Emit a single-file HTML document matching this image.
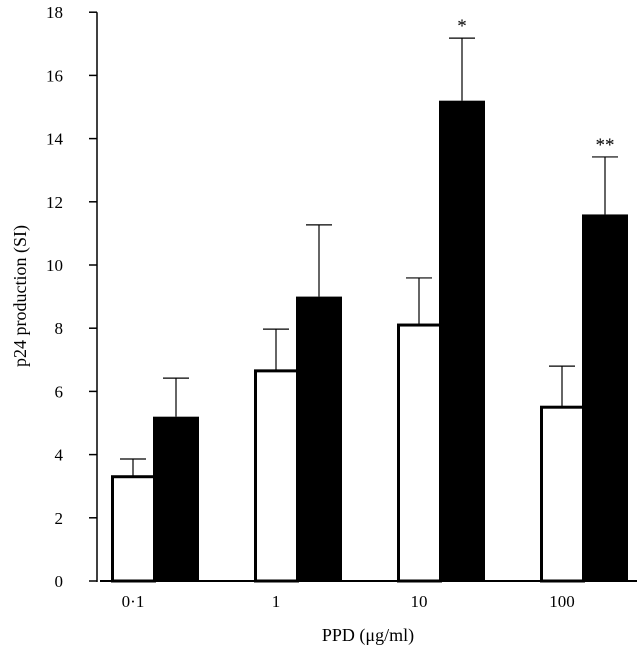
<!DOCTYPE html>
<html><head><meta charset="utf-8"><style>
body{margin:0;background:#fff}
svg{display:block}
text{font-family:"Liberation Serif","Times New Roman",serif}
</style></head><body>
<svg id="c" width="642" height="649"></svg>
<script>
const categories=["0·1","1","10","100"];
const controlValues=[3.3,6.65,8.1,5.5];
const controlErrors=[3.86,7.97,9.59,6.8];
const treatedValues=[5.2,9.0,15.2,11.6];
const treatedErrors=[6.42,11.27,17.18,13.42];
const significance=["","","*","**"];
const yTicks=[0,2,4,6,8,10,12,14,16,18];
const svg=document.getElementById('c');
const NS="http://www.w3.org/2000/svg";
const y=v=>581-v*31.6;
const gx=i=>111+i*143;
function mk(t,a,name,txt){const e=document.createElementNS(NS,t);for(const k in a)e.setAttribute(k,a[k]);


if(txt!==undefined)e.textContent=txt;svg.appendChild(e);return e;}
mk('line',{x1:97,y1:y(18),x2:97,y2:582,stroke:'#000','stroke-width':1.5},'y-axis');
mk('line',{x1:100,y1:581,x2:637,y2:581,stroke:'#000','stroke-width':2},'x-axis');
yTicks.forEach(t=>{
mk('line',{x1:89,y1:y(t),x2:97,y2:y(t),stroke:'#000','stroke-width':1.5},'y-tick');
mk('text',{x:63,y:y(t)+6,'text-anchor':'end','font-size':17},'y-tick-label',String(t));
});
categories.forEach((c,i)=>{
const x=gx(i);
mk('line',{x1:x+22,y1:y(controlErrors[i]),x2:x+22,y2:y(controlValues[i]),stroke:'#000','stroke-width':1.2},'control-error-bar');
mk('line',{x1:x+9,y1:y(controlErrors[i]),x2:x+35,y2:y(controlErrors[i]),stroke:'#000','stroke-width':1.2},'control-error-cap');
mk('rect',{x:x+1.5,y:y(controlValues[i]),width:42,height:581-y(controlValues[i]),fill:'#fff',stroke:'#000','stroke-width':3},'bar-control-'+i);
mk('line',{x1:x+65,y1:y(treatedErrors[i]),x2:x+65,y2:y(treatedValues[i]),stroke:'#000','stroke-width':1.2},'treated-error-bar');
mk('line',{x1:x+52,y1:y(treatedErrors[i]),x2:x+78,y2:y(treatedErrors[i]),stroke:'#000','stroke-width':1.2},'treated-error-cap');
mk('rect',{x:x+42,y:y(treatedValues[i]),width:46,height:581-y(treatedValues[i]),fill:'#000'},'bar-treated-'+i);
if(significance[i])mk('text',{x:x+65,y:y(treatedErrors[i])-6,'text-anchor':'middle','font-size':19},'significance-marker',significance[i]);
mk('text',{x:x+22,y:607,'text-anchor':'middle','font-size':17},'x-tick-label',c);
});
mk('text',{x:368,y:641,'text-anchor':'middle','font-size':18},'x-axis-title','PPD (μg/ml)');
mk('text',{x:26,y:296,'text-anchor':'middle','font-size':18,transform:'rotate(-90 26 296)'},'y-axis-title','p24 production (SI)');
</script>
</body></html>
